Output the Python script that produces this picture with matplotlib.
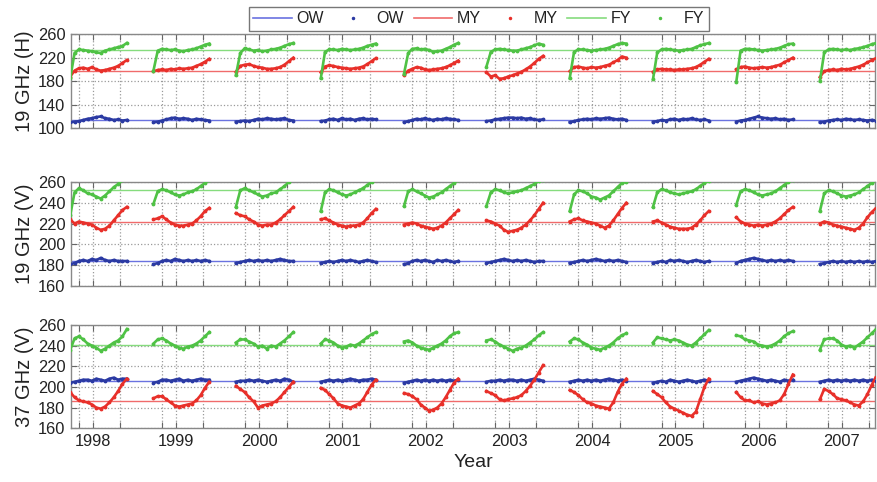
import matplotlib
matplotlib.use("Agg")
import matplotlib.pyplot as plt
from matplotlib.lines import Line2D
import numpy as np

plt.rcParams['font.family'] = ['Liberation Sans', 'DejaVu Sans']

# season labels (year of the Jan 1 inside each winter season)
years = [1998, 1999, 2000, 2001, 2002, 2003, 2004, 2005, 2006, 2007]
# start / end of each season (decimal years)
season_start = [1997.73, 1998.73, 1999.72, 2000.74, 2001.74, 2002.73, 2003.73, 2004.73, 2005.73, 2006.735]
season_end = [1998.41, 1999.40, 2000.41, 2001.40, 2002.39, 2003.41, 2004.41, 2005.40, 2006.41, 2007.41]

# ---- 19 GHz (H) ----
h19_ow = [
    [110, 111, 112, 114, 116, 117, 119, 120, 117, 116, 114, 115, 113, 114],
    [110, 111, 113, 115, 117, 118, 116, 117, 116, 114, 116, 115, 114, 113],
    [111, 112, 113, 112, 114, 116, 115, 117, 116, 115, 116, 117, 114, 113],
    [112, 113, 115, 116, 114, 117, 115, 116, 114, 116, 117, 115, 116, 115],
    [110, 112, 114, 116, 115, 117, 115, 114, 116, 115, 117, 116, 115, 114],
    [112, 113, 115, 116, 117, 118, 118, 117, 118, 116, 117, 115, 114, 115],
    [110, 112, 114, 115, 116, 115, 117, 116, 117, 118, 116, 115, 116, 114],
    [111, 112, 114, 113, 115, 116, 114, 116, 115, 117, 115, 114, 115, 113],
    [111, 113, 114, 116, 118, 120, 118, 117, 116, 117, 115, 116, 114, 115],
    [110, 111, 113, 114, 115, 114, 116, 115, 114, 115, 114, 113, 114, 113],
]
h19_my = [
    [188, 198, 202, 203, 201, 204, 200, 198, 199, 201, 203, 206, 211, 216],
    [197, 199, 200, 199, 201, 200, 202, 201, 202, 203, 206, 209, 213, 218],
    [196, 206, 208, 209, 206, 204, 203, 201, 201, 202, 204, 208, 214, 220],
    [195, 205, 207, 206, 204, 203, 202, 201, 202, 203, 205, 209, 214, 219],
    [190, 198, 201, 204, 203, 200, 199, 200, 201, 202, 204, 207, 211, 215],
    [195, 188, 190, 184, 185, 188, 190, 193, 196, 200, 205, 211, 218, 223],
    [197, 204, 205, 203, 202, 204, 203, 204, 206, 208, 212, 216, 222, 220],
    [196, 200, 201, 200, 200, 199, 200, 200, 201, 202, 204, 208, 213, 218],
    [200, 204, 205, 203, 202, 203, 204, 203, 204, 206, 208, 212, 216, 220],
    [187, 197, 199, 200, 199, 201, 200, 201, 203, 205, 208, 212, 216, 219],
]
h19_fy = [
    [185, 228, 234, 233, 232, 231, 229, 228, 232, 234, 236, 238, 240, 245],
    [198, 232, 235, 234, 233, 234, 232, 231, 233, 234, 236, 239, 242, 244],
    [190, 228, 236, 234, 232, 233, 231, 232, 234, 235, 237, 240, 243, 245],
    [185, 230, 234, 234, 233, 235, 234, 233, 234, 235, 237, 240, 242, 244],
    [193, 228, 235, 236, 234, 235, 233, 230, 231, 232, 235, 238, 242, 245],
    [205, 230, 234, 235, 234, 233, 232, 232, 234, 236, 238, 241, 244, 242],
    [185, 230, 234, 234, 233, 232, 233, 234, 235, 237, 240, 243, 245, 244],
    [183, 229, 234, 235, 234, 233, 232, 233, 234, 235, 238, 241, 243, 245],
    [178, 232, 235, 235, 234, 233, 232, 233, 234, 235, 237, 240, 243, 244],
    [180, 229, 234, 235, 234, 233, 234, 233, 235, 236, 238, 240, 243, 245],
]

# ---- 19 GHz (V) ----
v19_ow = [
    [181, 182, 184, 185, 184, 186, 185, 187, 185, 184, 185, 184, 184, 184],
    [181, 182, 184, 185, 184, 186, 185, 184, 185, 184, 185, 184, 185, 184],
    [182, 183, 184, 185, 184, 185, 184, 185, 184, 185, 186, 185, 184, 184],
    [182, 183, 184, 183, 184, 185, 184, 185, 184, 183, 184, 185, 184, 183],
    [181, 182, 184, 185, 184, 185, 184, 183, 185, 184, 185, 184, 183, 184],
    [182, 183, 184, 185, 186, 185, 184, 185, 184, 185, 184, 183, 184, 184],
    [182, 183, 184, 185, 184, 185, 186, 185, 184, 185, 184, 185, 184, 183],
    [182, 183, 184, 183, 185, 184, 185, 184, 183, 184, 185, 184, 183, 184],
    [182, 184, 185, 186, 187, 186, 185, 184, 185, 184, 185, 184, 185, 184],
    [181, 182, 183, 184, 183, 184, 183, 184, 183, 184, 183, 184, 183, 184],
]
v19_my = [
    [224, 220, 222, 221, 220, 219, 216, 214, 215, 218, 223, 228, 233, 236],
    [224, 225, 227, 224, 221, 219, 218, 218, 219, 220, 223, 227, 232, 235],
    [230, 228, 227, 224, 222, 219, 218, 219, 219, 221, 224, 228, 232, 236],
    [224, 225, 223, 221, 219, 218, 217, 218, 218, 219, 221, 225, 230, 234],
    [219, 220, 221, 220, 218, 217, 216, 215, 216, 218, 221, 225, 229, 233],
    [223, 222, 220, 218, 214, 212, 213, 214, 216, 219, 223, 228, 234, 240],
    [222, 224, 225, 223, 222, 221, 220, 218, 216, 218, 223, 229, 235, 240],
    [222, 223, 221, 219, 217, 216, 215, 215, 215, 216, 219, 223, 228, 232],
    [226, 222, 220, 219, 218, 219, 218, 219, 220, 222, 225, 229, 233, 236],
    [220, 222, 221, 219, 218, 217, 216, 215, 214, 216, 220, 226, 231, 235],
]
v19_fy = [
    [228, 250, 254, 252, 249, 248, 246, 244, 247, 251, 255, 258, 262, 266],
    [239, 251, 253, 252, 250, 248, 247, 248, 250, 251, 253, 256, 259, 262],
    [236, 252, 254, 252, 250, 248, 246, 247, 249, 250, 253, 256, 260, 263],
    [232, 250, 253, 252, 250, 248, 247, 248, 250, 252, 254, 257, 260, 263],
    [237, 251, 253, 251, 249, 247, 245, 246, 248, 250, 253, 256, 259, 262],
    [237, 250, 253, 252, 250, 249, 250, 251, 252, 254, 256, 258, 261, 262],
    [232, 248, 252, 251, 249, 246, 245, 243, 245, 247, 251, 255, 259, 260],
    [236, 250, 253, 252, 250, 249, 248, 249, 250, 251, 253, 256, 259, 261],
    [238, 251, 253, 252, 250, 248, 247, 248, 249, 251, 254, 257, 260, 262],
    [232, 249, 252, 251, 249, 247, 246, 247, 248, 250, 253, 256, 259, 262],
]

# ---- 37 GHz (V) ----
v37_ow = [
    [204, 205, 206, 207, 207, 206, 208, 207, 206, 208, 209, 207, 208, 208],
    [204, 205, 207, 207, 206, 207, 208, 206, 207, 206, 207, 208, 207, 207],
    [205, 206, 206, 207, 206, 207, 206, 205, 206, 207, 206, 208, 207, 205],
    [205, 206, 207, 206, 207, 206, 207, 208, 207, 206, 207, 207, 208, 207],
    [204, 205, 206, 207, 206, 207, 206, 207, 206, 207, 206, 207, 206, 207],
    [205, 206, 206, 207, 206, 207, 207, 206, 207, 206, 207, 208, 207, 206],
    [205, 206, 207, 206, 207, 206, 207, 206, 207, 208, 207, 206, 207, 206],
    [204, 205, 206, 205, 207, 206, 205, 206, 207, 206, 205, 206, 207, 206],
    [205, 206, 207, 208, 209, 208, 207, 206, 207, 206, 205, 207, 206, 207],
    [205, 206, 207, 206, 207, 206, 207, 206, 207, 206, 207, 206, 207, 206],
]
v37_my = [
    [195, 190, 187, 186, 185, 183, 180, 179, 181, 185, 190, 196, 203, 208],
    [189, 191, 191, 188, 185, 182, 181, 182, 183, 184, 187, 192, 199, 205],
    [201, 198, 195, 190, 186, 180, 182, 183, 184, 186, 190, 195, 200, 205],
    [199, 197, 193, 189, 184, 182, 181, 180, 182, 184, 188, 195, 202, 207],
    [194, 193, 191, 188, 183, 180, 177, 178, 180, 184, 190, 197, 204, 208],
    [196, 194, 192, 188, 187, 188, 189, 190, 192, 196, 201, 207, 214, 221],
    [197, 195, 192, 188, 185, 184, 182, 181, 180, 179, 185, 195, 203, 208],
    [196, 193, 190, 185, 181, 179, 177, 175, 173, 172, 176, 188, 200, 208],
    [195, 190, 187, 187, 185, 186, 184, 183, 184, 185, 187, 193, 203, 212],
    [188, 198, 196, 193, 189, 188, 187, 185, 183, 182, 186, 193, 202, 210],
]
v37_fy = [
    [236, 247, 249, 246, 242, 240, 238, 235, 237, 240, 243, 245, 249, 256],
    [242, 246, 247, 245, 242, 240, 238, 237, 239, 240, 242, 245, 249, 253],
    [243, 246, 246, 244, 242, 239, 240, 237, 240, 239, 242, 245, 249, 253],
    [242, 246, 245, 243, 240, 238, 239, 241, 240, 242, 245, 248, 251, 253],
    [244, 245, 243, 240, 238, 237, 236, 238, 240, 242, 245, 249, 252, 253],
    [245, 246, 244, 241, 239, 237, 235, 237, 238, 240, 243, 246, 250, 253],
    [244, 247, 246, 243, 241, 238, 237, 236, 238, 240, 243, 247, 250, 252],
    [243, 248, 247, 246, 245, 246, 245, 243, 241, 240, 243, 247, 251, 255],
    [250, 249, 246, 245, 244, 241, 240, 239, 240, 242, 245, 249, 252, 254],
    [236, 246, 247, 247, 245, 241, 239, 240, 238, 241, 244, 248, 252, 256],
]

# constant tie points (OW, MY, FY) per channel
tie_h19 = [113.5, 198, 233]
tie_v19 = [184.5, 222, 252.5]
tie_v37 = [205.5, 186, 241]

panels = [
    ('19 GHz (H)', [h19_ow, h19_my, h19_fy], tie_h19, (100, 260), [100, 140, 180, 220, 260]),
    ('19 GHz (V)', [v19_ow, v19_my, v19_fy], tie_v19, (160, 260), [160, 180, 200, 220, 240, 260]),
    ('37 GHz (V)', [v37_ow, v37_my, v37_fy], tie_v37, (160, 260), [160, 180, 200, 220, 240, 260]),
]

dot_colors = ['#2b3aa3', '#e8302a', '#4fc245']
line_colors = ['#6a72e0', '#f06b6b', '#86dc7e']
names = ['OW', 'MY', 'FY']
text_col = '#222222'

# axes rectangles in figure fractions [left, bottom, width, height]
rects = [
    [0.081, 0.734, 0.917, 0.195],
    [0.081, 0.4066, 0.917, 0.2158],
    [0.081, 0.1114, 0.917, 0.2143],
]

fig = plt.figure(figsize=(8.77, 4.82), dpi=100)

# x ticks: Nov 1, Jan 1, May 1 of each season
xticks = []
xlabels = []
for y in years:
    xticks += [y - 0.167, y, y + 0.329]
    xlabels += ['', str(y), '']

for i, (ylab, series, ties, ylim, yticks) in enumerate(panels):
    ax = fig.add_axes(rects[i])
    for k in range(3):
        ax.axhline(ties[k], color=line_colors[k], lw=1.0, zorder=2)
    for k in range(3):
        for s in range(len(years)):
            vals = series[k][s]
            t = np.linspace(season_start[s], season_end[s], len(vals))
            ax.plot(t, vals, color=dot_colors[k], lw=1.9, marker='.', ms=3.5,
                    zorder=3, solid_joinstyle='round')
    ax.set_xlim(1997.74, 2007.40)
    ax.set_ylim(*ylim)
    ax.set_yticks(yticks)
    ax.set_xticks(xticks)
    if i == 2:
        ax.set_xticklabels(xlabels)
        ax.set_xlabel('Year', fontsize=14, color=text_col, labelpad=4)
    else:
        ax.set_xticklabels([])
    ax.set_ylabel(ylab, fontsize=14.5, color=text_col, labelpad=3)
    ax.grid(True, linestyle=':', color='#9a9a9a', lw=0.9)
    ax.tick_params(direction='in', top=True, right=True, length=4,
                   labelsize=11.8, labelcolor=text_col, color='#666666', pad=4)
    for sp in ax.spines.values():
        sp.set_color('#888888')
        sp.set_linewidth(1.0)

handles = []
labels = []
for k in range(3):
    handles.append(Line2D([], [], color=line_colors[k], lw=1.2))
    labels.append(names[k])
    handles.append(Line2D([], [], color=dot_colors[k], ls='none', marker='.', ms=3))
    labels.append(names[k])

leg = fig.legend(handles, labels, loc='center', bbox_to_anchor=(0.546, 0.961), ncol=6,
                 fontsize=11.5, frameon=True, fancybox=False, framealpha=1,
                 edgecolor='#777777', handlelength=2.4, handletextpad=0.3,
                 columnspacing=0.6, borderpad=0.3)
for txt in leg.get_texts():
    txt.set_color(text_col)

fig.savefig('out.png', dpi=100)
